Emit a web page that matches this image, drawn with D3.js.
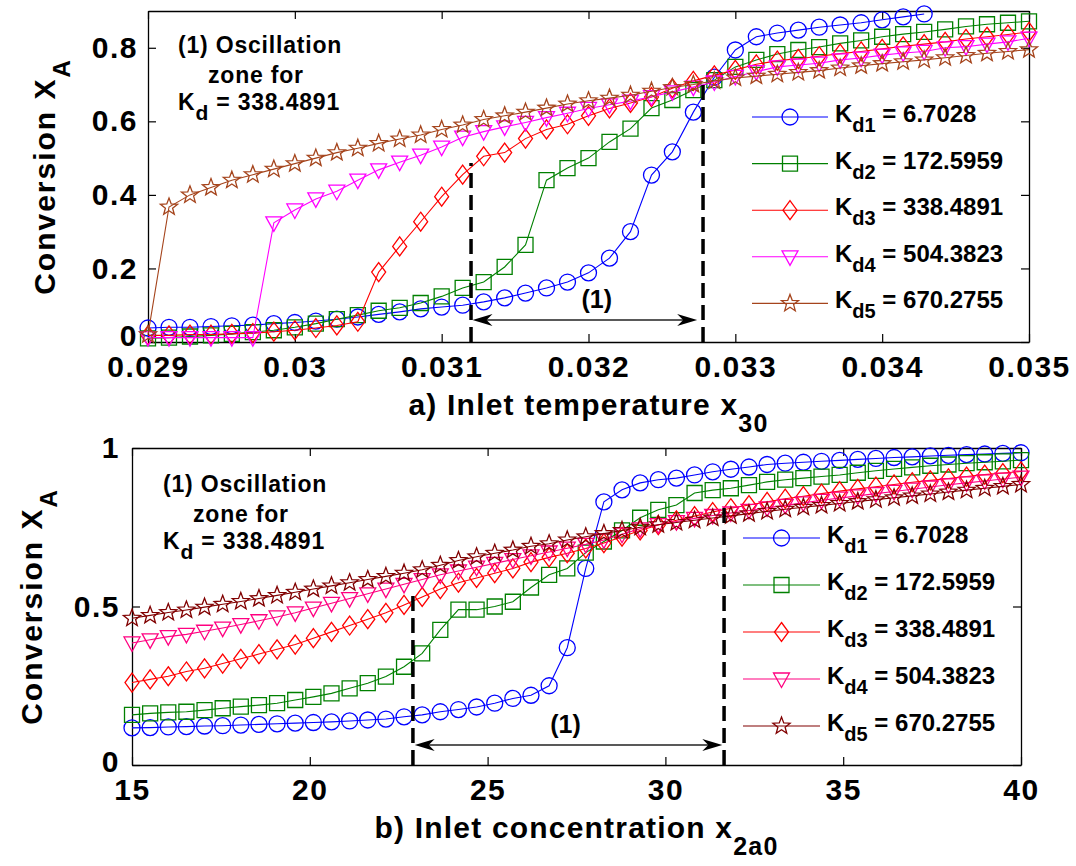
<!DOCTYPE html>
<html>
<head>
<meta charset="utf-8">
<script src="https://cdn.jsdelivr.net/npm/d3@7"></script>
<style>
body { margin: 0; background: #fff; }
text { font-family: "Liberation Sans", Arial, sans-serif; font-weight: bold; fill: #000; }
</style>
</head>
<body>
<svg id="chart" width="1076" height="866"></svg>
<script>
// ---- data ----
let kdNames = ['d1', 'd2', 'd3', 'd4', 'd5'];
let kdValues = ['6.7028', '172.5959', '338.4891', '504.3823', '670.2755'];

// a) inlet temperature x30
let tempX = [0.029, 0.029143, 0.029286, 0.029429, 0.029571, 0.029714, 0.029857, 0.03, 0.030143, 0.030286,
    0.030429, 0.030571, 0.030714, 0.030857, 0.031, 0.031143, 0.031286, 0.031429, 0.031571, 0.031714,
    0.031857, 0.032, 0.032143, 0.032286, 0.032429, 0.032571, 0.032714, 0.032857, 0.033, 0.033143,
    0.033286, 0.033429, 0.033571, 0.033714, 0.033857, 0.034, 0.034143, 0.034286, 0.034429, 0.034571,
    0.034714, 0.034857, 0.035];
let tempKd1 = [0.038, 0.04, 0.04, 0.042, 0.044, 0.046, 0.05, 0.053, 0.057, 0.062,
    0.068, 0.075, 0.082, 0.09, 0.095, 0.1, 0.109, 0.12, 0.133, 0.147,
    0.163, 0.188, 0.228, 0.3, 0.454, 0.517, 0.625, 0.72, 0.794, 0.83,
    0.84, 0.848, 0.856, 0.862, 0.868, 0.876, 0.884, 0.892];
let tempKd2 = [0.01, 0.012, 0.015, 0.018, 0.022, 0.027, 0.032, 0.04, 0.05, 0.062,
    0.073, 0.085, 0.093, 0.106, 0.124, 0.147, 0.163, 0.204, 0.264, 0.44,
    0.473, 0.5, 0.544, 0.58, 0.636, 0.658, 0.685, 0.712, 0.748, 0.767,
    0.783, 0.794, 0.802, 0.812, 0.82, 0.83, 0.837, 0.843, 0.85, 0.858,
    0.864, 0.868, 0.872];
let tempKd3 = [0.018, 0.018, 0.02, 0.02, 0.022, 0.024, 0.028, 0.032, 0.038, 0.045,
    0.055, 0.19, 0.26, 0.327, 0.395, 0.455, 0.505, 0.515, 0.553, 0.578,
    0.592, 0.615, 0.635, 0.65, 0.666, 0.69, 0.71, 0.725, 0.74, 0.755,
    0.765, 0.77, 0.777, 0.784, 0.79, 0.797, 0.804, 0.81, 0.816, 0.824,
    0.83, 0.836, 0.843];
let tempKd4 = [0.012, 0.012, 0.012, 0.012, 0.012, 0.012, 0.324, 0.359, 0.389, 0.41,
    0.44, 0.468, 0.489, 0.508, 0.53, 0.557, 0.572, 0.585, 0.597, 0.61,
    0.622, 0.635, 0.645, 0.655, 0.667, 0.68, 0.693, 0.707, 0.722, 0.735,
    0.748, 0.753, 0.758, 0.767, 0.772, 0.78, 0.786, 0.79, 0.8, 0.803,
    0.81, 0.816, 0.826];
let tempKd5 = [0.02, 0.367, 0.40, 0.42, 0.44, 0.455, 0.47, 0.485, 0.50, 0.515,
    0.527, 0.54, 0.552, 0.563, 0.578, 0.59, 0.605, 0.615, 0.625, 0.636,
    0.647, 0.656, 0.663, 0.671, 0.682, 0.692, 0.70, 0.71, 0.718, 0.723,
    0.728, 0.733, 0.738, 0.745, 0.751, 0.757, 0.762, 0.767, 0.773, 0.779,
    0.785, 0.79, 0.795];
let tempXTicks = [0.029, 0.03, 0.031, 0.032, 0.033, 0.034, 0.035];
let tempYTicks = [0, 0.2, 0.4, 0.6, 0.8];
let tempZone = [0.0312, 0.03278];      // dashed lines, x
let tempZoneTop = [0.487, 0.70];       // dashed lines, top y
let tempArrow = [0.03121, 0.03274, 0.06];

// b) inlet concentration x2a0
let concX = [15, 15.51, 16.02, 16.53, 17.04, 17.55, 18.06, 18.57, 19.08, 19.59,
    20.10, 20.61, 21.12, 21.63, 22.14, 22.65, 23.16, 23.67, 24.18, 24.69,
    25.20, 25.71, 26.22, 26.73, 27.24, 27.76, 28.27, 28.78, 29.29, 29.80,
    30.31, 30.82, 31.33, 31.84, 32.35, 32.86, 33.37, 33.88, 34.39, 34.90,
    35.41, 35.92, 36.43, 36.94, 37.45, 37.96, 38.47, 38.98, 39.49, 40];
let concKd1 = [0.117, 0.118, 0.12, 0.121, 0.123, 0.124, 0.126, 0.128, 0.13, 0.132,
    0.134, 0.136, 0.139, 0.142, 0.145, 0.152, 0.158, 0.168, 0.175, 0.183,
    0.195, 0.21, 0.22, 0.25, 0.37, 0.62, 0.83, 0.868, 0.89, 0.9,
    0.905, 0.915, 0.925, 0.933, 0.94, 0.948, 0.952, 0.955, 0.958, 0.961,
    0.964, 0.967, 0.97, 0.972, 0.975, 0.977, 0.979, 0.981, 0.983, 0.985];
let concKd2 = [0.158, 0.163, 0.166, 0.168, 0.173, 0.179, 0.184, 0.189, 0.195, 0.205,
    0.215, 0.226, 0.242, 0.258, 0.279, 0.31, 0.352, 0.426, 0.49, 0.49,
    0.5, 0.515, 0.56, 0.6, 0.62, 0.67, 0.705, 0.74, 0.78, 0.805,
    0.82, 0.858, 0.867, 0.873, 0.883, 0.893, 0.9, 0.905, 0.91, 0.915,
    0.922, 0.928, 0.934, 0.939, 0.944, 0.948, 0.952, 0.955, 0.958, 0.962];
let concKd3 = [0.26, 0.27, 0.28, 0.295, 0.305, 0.32, 0.335, 0.35, 0.365, 0.38,
    0.4, 0.42, 0.44, 0.46, 0.48, 0.505, 0.53, 0.555, 0.575, 0.59,
    0.605, 0.62, 0.64, 0.655, 0.668, 0.683, 0.7, 0.72, 0.74, 0.757,
    0.772, 0.785, 0.798, 0.81, 0.82, 0.83, 0.84, 0.848, 0.856, 0.864,
    0.871, 0.878, 0.885, 0.892, 0.898, 0.904, 0.91, 0.916, 0.921, 0.926];
let concKd4 = [0.385, 0.395, 0.405, 0.412, 0.422, 0.432, 0.443, 0.455, 0.467, 0.48,
    0.495, 0.51, 0.525, 0.54, 0.555, 0.57, 0.585, 0.6, 0.612, 0.624,
    0.636, 0.648, 0.66, 0.672, 0.684, 0.696, 0.71, 0.728, 0.745, 0.758,
    0.768, 0.778, 0.787, 0.795, 0.803, 0.811, 0.819, 0.827, 0.835, 0.842,
    0.849, 0.856, 0.863, 0.87, 0.877, 0.884, 0.89, 0.896, 0.902, 0.908];
let concKd5 = [0.463, 0.472, 0.481, 0.489, 0.498, 0.507, 0.516, 0.525, 0.535, 0.545,
    0.555, 0.565, 0.575, 0.585, 0.595, 0.605, 0.616, 0.63, 0.645, 0.657,
    0.668, 0.678, 0.69, 0.698, 0.71, 0.72, 0.73, 0.74, 0.75, 0.758,
    0.765, 0.772, 0.779, 0.786, 0.793, 0.8, 0.807, 0.813, 0.819, 0.825,
    0.831, 0.837, 0.843, 0.849, 0.855, 0.861, 0.867, 0.873, 0.879, 0.885];
let concXTicks = [15, 20, 25, 30, 35, 40];
let concYTicks = [0, 0.5, 1];
let concZone = [22.9, 31.65];
let concZoneTop = [0.543, 0.814];
let concArrow = [22.95, 31.6, 0.063];

// ---- drawing ----
let svg = d3.select('#chart');
let markerTypes = ['circle', 'square', 'diamond', 'triangle', 'star'];

function markerPath(type) {
    if (type === 'circle') return 'M8,0A8,8 0 1,1 -8,0A8,8 0 1,1 8,0Z';
    if (type === 'square') return 'M-7.5,-7.5H7.5V7.5H-7.5Z';
    if (type === 'diamond') return 'M0,-9.5L7,0L0,9.5L-7,0Z';
    if (type === 'triangle') return 'M-8,-6L8,-6L0,8.5Z';
    let pts = [];
    for (let i = 0; i < 10; i++) {
        let a = -Math.PI / 2 + i * Math.PI / 5, r = i % 2 ? 3.8 : 9;
        pts.push([r * Math.cos(a), r * Math.sin(a)]);
    }
    return 'M' + pts.map(p => p[0].toFixed(2) + ',' + p[1].toFixed(2)).join('L') + 'Z';
}

// text with subscripts: parts = [[string, isSub], ...]
function richText(sel, parts, size, subSize, shift) {
    let prevSub = false;
    parts.forEach(function(p) {
        let t = sel.append('tspan').text(p[0]).attr('font-size', p[1] ? subSize : size);
        if (p[1] && !prevSub) t.attr('dy', shift);
        if (!p[1] && prevSub) t.attr('dy', -shift);
        prevSub = p[1];
    });
    return sel;
}

function drawPanel(p) {
    let x = d3.scaleLinear().domain(p.xDomain).range([p.left, p.right]);
    let y = d3.scaleLinear().domain(p.yDomain).range([p.bottom, p.top]);
    let g = svg.append('g');

    function styleAxis(a, labels) {
        a.attr('font-size', 30).attr('font-family', null);
        a.select('.domain').attr('stroke', '#000').attr('stroke-width', 1.3);
        a.selectAll('.tick line').attr('stroke', '#000').attr('stroke-width', 1.2);
        a.selectAll('.tick text').style('letter-spacing', '1.5px');
        if (!labels) a.selectAll('.tick text').remove();
    }

    g.append('g').attr('transform', `translate(0,${p.bottom})`)
        .call(d3.axisBottom(x).tickValues(p.xTicks).tickFormat(d => String(d))
            .tickSizeInner(-8).tickSizeOuter(0).tickPadding(14))
        .call(a => styleAxis(a, true));
    g.append('g').attr('transform', `translate(0,${p.top})`)
        .call(d3.axisTop(x).tickValues(p.xTicks).tickSizeInner(-8).tickSizeOuter(0))
        .call(a => styleAxis(a, false));
    g.append('g').attr('transform', `translate(${p.left},0)`)
        .call(d3.axisLeft(y).tickValues(p.yTicks).tickFormat(d => String(d))
            .tickSizeInner(-8).tickSizeOuter(0).tickPadding(p.yPad))
        .call(a => styleAxis(a, true))
        // the zero label sits a little higher so it clears the x tick labels
        .call(a => a.selectAll('.tick text').filter(d => d === 0).attr('dy', p.zeroDy));
    g.append('g').attr('transform', `translate(${p.right},0)`)
        .call(d3.axisRight(y).tickValues(p.yTicks).tickSizeInner(-8).tickSizeOuter(0))
        .call(a => styleAxis(a, false));

    // axis titles
    richText(g.append('text').attr('x', (p.left + p.right) / 2).attr('y', p.bottom + 73)
        .attr('text-anchor', 'middle').style('letter-spacing', '1.2px'),
        [[p.xTitle, false], [p.xSub, true]], 30, 25, 17);
    richText(g.append('text')
        .attr('transform', `translate(${p.yTitleX},${(p.top + p.bottom) / 2}) rotate(-90)`)
        .attr('text-anchor', 'middle').style('letter-spacing', '2px'),
        [['Conversion X', false], ['A', true]], 30, 24, 15);

    // series
    let line = d3.line().x(d => x(d[0])).y(d => y(d[1]));
    p.series.forEach(function(vals, i) {
        let pts = vals.map((v, j) => [p.xs[j], v]);
        g.append('path').datum(pts).attr('d', line)
            .attr('fill', 'none').attr('stroke', p.colors[i]).attr('stroke-width', 1.1);
        g.append('g').selectAll('path').data(pts).join('path')
            .attr('d', markerPath(markerTypes[i]))
            .attr('transform', d => `translate(${x(d[0])},${y(d[1])})`)
            .attr('fill', 'none').attr('stroke', p.colors[i]).attr('stroke-width', 1.3);
    });

    // oscillation zone
    p.zone.forEach(function(zx, i) {
        g.append('line').attr('x1', x(zx)).attr('x2', x(zx))
            .attr('y1', y(0)).attr('y2', y(p.zoneTop[i]))
            .attr('stroke', '#000').attr('stroke-width', 3.5).attr('stroke-dasharray', '15,7');
    });
    let ax1 = x(p.arrow[0]), ax2 = x(p.arrow[1]), ay = y(p.arrow[2]);
    g.append('line').attr('x1', ax1 + 10).attr('x2', ax2 - 10).attr('y1', ay).attr('y2', ay)
        .attr('stroke', '#222').attr('stroke-width', 1.6);
    g.append('path').attr('d', `M${ax1},${ay}L${ax1 + 20},${ay - 6}L${ax1 + 14},${ay}L${ax1 + 20},${ay + 6}Z`).attr('fill', '#000');
    g.append('path').attr('d', `M${ax2},${ay}L${ax2 - 20},${ay - 6}L${ax2 - 14},${ay}L${ax2 - 20},${ay + 6}Z`).attr('fill', '#000');
    g.append('text').attr('x', (ax1 + ax2) / 2 - p.arrowLabelShift).attr('y', ay - 12)
        .attr('text-anchor', 'middle').attr('font-size', 25).text('(1)');

    // note
    let n = p.note;
    g.append('text').attr('x', n.x).attr('y', n.y).attr('font-size', 23)
        .style('letter-spacing', '0.8px').text('(1) Oscillation');
    g.append('text').attr('x', n.x + 30).attr('y', n.y + 30).attr('font-size', 23)
        .style('letter-spacing', '0.8px').text('zone for');
    richText(g.append('text').attr('x', n.x).attr('y', n.y + 57).style('letter-spacing', '0.8px'),
        [['K', false], ['d', true], [' = 338.4891', false]], 23, 21, 10);

    // legend
    let lg = p.legend;
    kdNames.forEach(function(name, i) {
        let ly = lg.y + i * lg.step;
        g.append('line').attr('x1', lg.x1).attr('x2', lg.x2).attr('y1', ly).attr('y2', ly)
            .attr('stroke', p.colors[i]).attr('stroke-width', 1.1);
        g.append('path').attr('d', markerPath(markerTypes[i]))
            .attr('transform', `translate(${(lg.x1 + lg.x2) / 2},${ly})`)
            .attr('fill', 'none').attr('stroke', p.colors[i]).attr('stroke-width', 1.3);
        richText(g.append('text').attr('x', lg.x2 + 7).attr('y', ly + 5),
            [['K', false], [name, true], [' = ' + kdValues[i], false]], 24, 20, 10);
    });
}

drawPanel({
    left: 148, right: 1029, top: 11, bottom: 342,
    xDomain: [0.029, 0.035], yDomain: [0, 0.9],
    xTicks: tempXTicks, yTicks: tempYTicks, yPad: 10, zeroDy: '0.1em',
    xs: tempX, series: [tempKd1, tempKd2, tempKd3, tempKd4, tempKd5],
    colors: ['#0000ff', '#008000', '#ff0000', '#ff00ff', '#a5441c'],
    xTitle: 'a) Inlet temperature x', xSub: '30', yTitleX: 55,
    zone: tempZone, zoneTop: tempZoneTop, arrow: tempArrow, arrowLabelShift: -12,
    note: { x: 178, y: 53 },
    legend: { x1: 752, x2: 828, y: 117, step: 46.6 }
});

drawPanel({
    left: 132, right: 1021, top: 448, bottom: 765,
    xDomain: [15, 40], yDomain: [0, 1],
    xTicks: concXTicks, yTicks: concYTicks, yPad: 12, zeroDy: '0.2em',
    xs: concX, series: [concKd1, concKd2, concKd3, concKd4, concKd5],
    colors: ['#0000ff', '#008000', '#ff0000', '#ff0080', '#800000'],
    xTitle: 'b) Inlet concentration x', xSub: '2a0', yTitleX: 42,
    zone: concZone, zoneTop: concZoneTop, arrow: concArrow, arrowLabelShift: 3,
    note: { x: 163, y: 492 },
    legend: { x1: 743, x2: 820, y: 538, step: 47 }
});
</script>
</body>
</html>
